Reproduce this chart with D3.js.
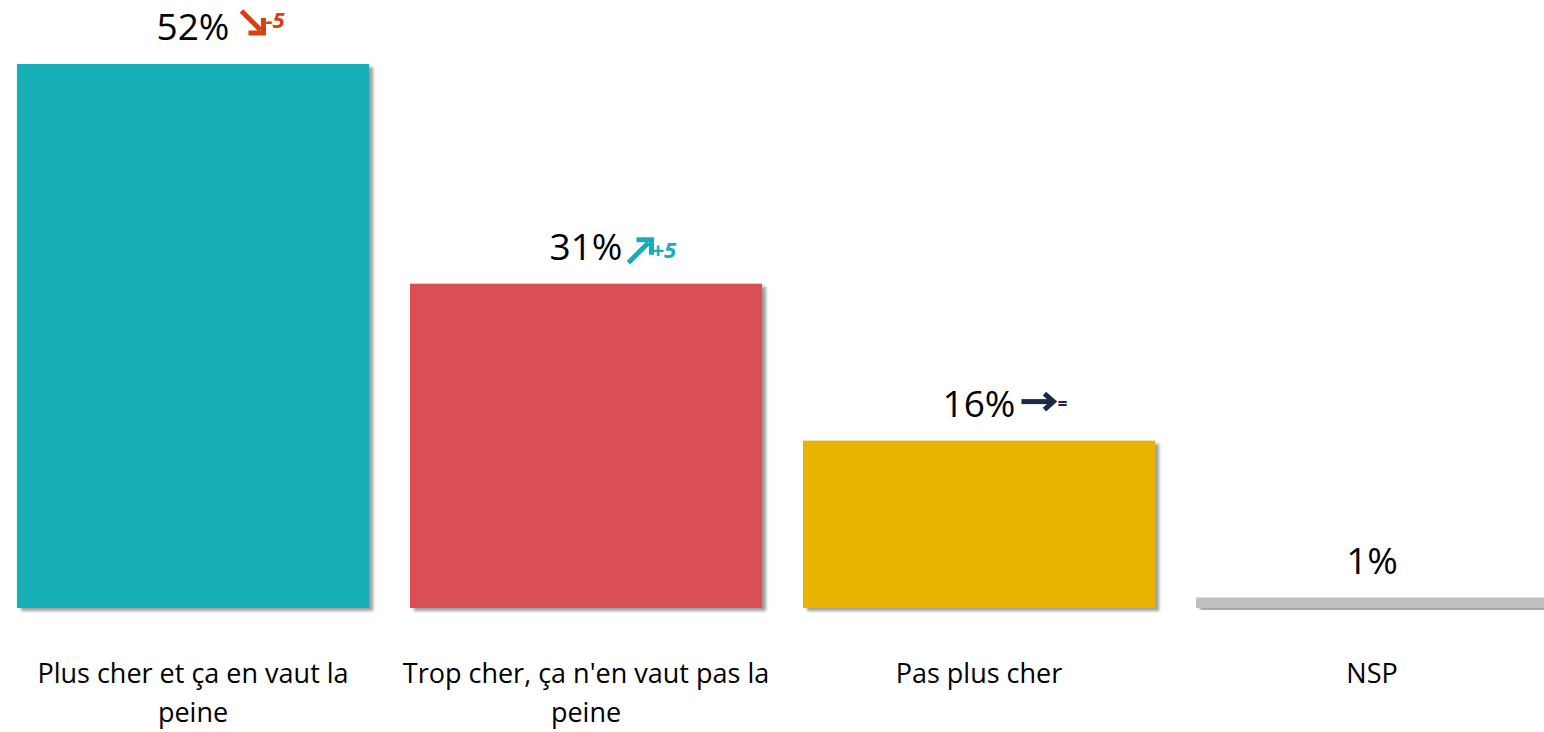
<!DOCTYPE html>
<html>
<head>
<meta charset="utf-8">
<script src="https://cdn.jsdelivr.net/npm/d3@7"></script>
<style>
  body { margin: 0; background: #fff; }
  svg { display: block; font-family: "Open Sans", Lato, sans-serif; }
</style>
</head>
<body>
<div id="chart"></div>
<script>
/** DATA */
const categories = ["Plus cher et ça en vaut la peine", "Trop cher, ça n'en vaut pas la peine", "Pas plus cher", "NSP"];
const values = [52, 31, 16, 1];
const deltas = ["-5", "+5", "=", ""];
const trends = ["down", "up", "flat", null];
const barColors = ["#13AFB6", "#D94F52", "#E8B200", "#BFBFBF"];
const trendColors = { down: "#D9400F", up: "#13AFB6", flat: "#1B2A44" };

/** CONSTANTS */
const width = 1544, height = 732;
const baseY = 608, topY = 64;

const svg = d3.select("#chart").append("svg")
  .attr("width", width)
  .attr("height", height);

const defs = svg.append("defs");
defs.append("filter")
  .attr("id", "shadow")
  .attr("x", "-5%").attr("y", "-5%").attr("width", "115%").attr("height", "115%")
  .append("feDropShadow")
  .attr("dx", 4).attr("dy", 3)
  .attr("stdDeviation", 1.8)
  .attr("flood-color", "#7f7f7f")
  .attr("flood-opacity", 0.75);

const x = d3.scaleBand()
  .domain(categories)
  .range([-3.5, 1568.5])
  .paddingInner(0.104)
  .paddingOuter(0.052);

const y = d3.scaleLinear()
  .domain([0, d3.max(values)])
  .range([baseY, topY]);

const data = categories.map((c, i) => ({
  cat: c, value: values[i], delta: deltas[i], trend: trends[i], color: barColors[i]
}));

// bars
svg.selectAll("rect.bar")
  .data(data)
  .join("rect")
  .attr("class", "bar")
  .attr("x", d => x(d.cat))
  .attr("y", d => y(d.value))
  .attr("width", x.bandwidth())
  .attr("height", d => y(0) - y(d.value))
  .attr("fill", d => d.color)
  .attr("filter", "url(#shadow)");

// value labels
const labels = svg.selectAll("g.val")
  .data(data)
  .join("g")
  .attr("class", "val")
  .attr("transform", d => `translate(${x(d.cat) + x.bandwidth() / 2}, ${y(d.value) - 24})`);

labels.append("text")
  .attr("text-anchor", "middle")
  .attr("font-size", 37)
  .attr("fill", "#000")
  .text(d => d.value + "%");

// trend arrows, placed after the label
labels.each(function(d) {
  if (!d.trend) return;
  const g = d3.select(this);
  const tw = g.select("text").node().getComputedTextLength();
  const col = trendColors[d.trend];
  let line, head, tx, ty, fs, gap;
  if (d.trend === "down") {
    gap = 12;
    line = "M0,-29 L19,-10";
    head = "M7,-7 L22,-7 L22,-22";
    tx = 24; ty = -12; fs = 22;
  } else if (d.trend === "up") {
    gap = 6;
    line = "M0,3 L20,-17";
    head = "M8,-20 L23,-20 L23,-5";
    tx = 23; ty = -2; fs = 22;
  } else {
    gap = 6;
    line = "M0,-15 L30,-15";
    head = "M23,-23 L32,-15 L23,-7";
    tx = 36; ty = -7; fs = 17;
  }
  const a = g.append("g").attr("transform", `translate(${tw / 2 + gap},0)`);
  a.append("path").attr("d", line).attr("stroke", col).attr("stroke-width", 5).attr("fill", "none");
  a.append("path").attr("d", head).attr("stroke", col).attr("stroke-width", 5)
    .attr("fill", "none").attr("stroke-linejoin", "miter");
  a.append("text")
    .attr("x", tx).attr("y", ty)
    .attr("font-size", fs)
    .attr("font-weight", "bold")
    .attr("font-style", "italic")
    .attr("fill", col)
    .text(d.delta);
});

// category labels with wrapping
const catText = svg.selectAll("text.cat")
  .data(data)
  .join("text")
  .attr("class", "cat")
  .attr("text-anchor", "middle")
  .attr("font-size", 27)
  .attr("fill", "#000")
  .attr("x", d => x(d.cat) + x.bandwidth() / 2)
  .attr("y", 683)
  .text(d => d.cat);

catText.each(function(d) {
  const t = d3.select(this);
  const words = d.cat.split(" ");
  const cx = x(d.cat) + x.bandwidth() / 2;
  const maxW = 378;
  t.text(null);
  let line = [];
  let ts = t.append("tspan").attr("x", cx).attr("dy", 0);
  for (const w of words) {
    line.push(w);
    ts.text(line.join(" "));
    if (ts.node().getComputedTextLength() > maxW && line.length > 1) {
      line.pop();
      ts.text(line.join(" "));
      line = [w];
      ts = t.append("tspan").attr("x", cx).attr("dy", 39).text(w);
    }
  }
});
</script>
</body>
</html>
